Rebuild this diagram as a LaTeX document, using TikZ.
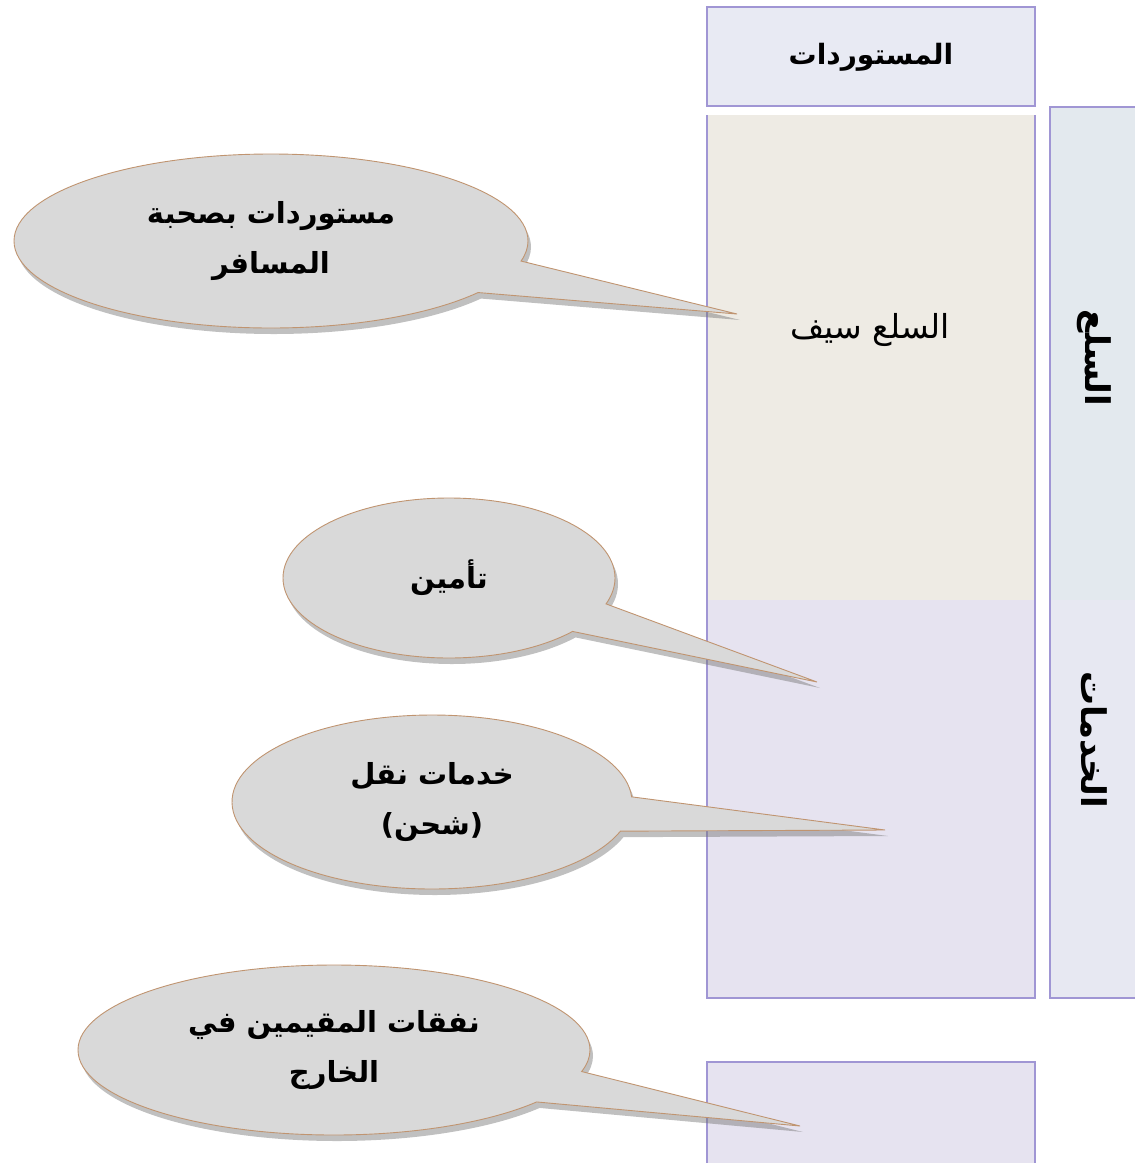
\documentclass[tikz,border=0pt]{standalone}
\usepackage{fontspec}
\usetikzlibrary{shapes.callouts,shadows}
\TeXXeTstate=1
\newfontfamily\arabicfont[Script=Arabic]{DejaVu Sans}
\definecolor{edgepurple}{RGB}{160,150,212}
\definecolor{topfill}{RGB}{232,234,243}
\definecolor{beigefill}{RGB}{238,235,228}
\definecolor{lavfill}{RGB}{230,227,240}
\definecolor{sidetop}{RGB}{227,233,238}
\definecolor{sidebot}{RGB}{231,232,242}
\definecolor{bubblefill}{RGB}{217,217,217}
\definecolor{bubbleedge}{RGB}{192,148,112}
\tikzset{
  panel/.style={inner sep=0pt, outer sep=0pt},
  framed/.style={panel, draw=edgepurple, line width=1.1pt},
  edge/.style={draw=edgepurple, line width=1.1pt},
  bubble/.style={ellipse callout, fill=bubblefill, draw=bubbleedge, line width=0.9pt,
    inner sep=0pt, align=center, callout pointer arc=23,
    font=\arabicfont\bfseries\fontsize{29}{50}\selectfont,
    drop shadow={shadow xshift=3pt, shadow yshift=-6pt, opacity=0.45, fill=black!55}},
  sidelabel/.style={font=\arabicfont\bfseries\fontsize{34}{40}\selectfont, rotate=-90}
}
\begin{document}
\begin{tikzpicture}[x=1pt,y=-1pt]
\useasboundingbox (0,0) rectangle (1135,1163);
\clip (0,0) rectangle (1135,1163);
% top header box
\node[framed, fill=topfill, minimum width=328pt, minimum height=99pt] (imp) at (871,56.5) {};
\node[font=\arabicfont\bfseries\fontsize{28}{32}\selectfont] (impt) at (871,57)
  {\beginR المستوردات\endR};
% main column
\node[panel, fill=beigefill, minimum width=328pt, minimum height=485pt] (goods) at (871,357.5) {};
\node[panel, fill=lavfill, minimum width=328pt, minimum height=398pt] (serv) at (871,799) {};
\draw[edge] (goods.north west) -- (serv.south west) -- (serv.south east) -- (goods.north east);
\node[font=\arabicfont\fontsize{33}{38}\selectfont] (cif) at (870,330) {\beginR السلع سيف\endR};
% side column
\node[panel, fill=sidetop, minimum width=90pt, minimum height=493pt] (gl) at (1095,353.5) {};
\node[panel, fill=sidebot, minimum width=90pt, minimum height=398pt] (sl) at (1095,799) {};
\draw[edge] (gl.north east) -- (gl.north west) -- (sl.south west) -- (sl.south east);
\node[sidelabel] (glt) at (1094,358) {\beginR السلع\endR};
\node[sidelabel] (slt) at (1094,740) {\beginR الخدمات\endR};
% bottom box
\node[framed, fill=lavfill, minimum width=328pt, minimum height=120pt] (abroad) at (871,1122) {};
% callout tips
\coordinate (t1) at (737,314);
\coordinate (t2) at (817,682);
\coordinate (t3) at (885,830);
\coordinate (t4) at (800,1126);
% callouts
\node[bubble, minimum width=514pt, minimum height=174pt, callout absolute pointer=(t1)] (c1) at (271,241)
  {\beginR مستوردات بصحبة\endR\\\beginR المسافر\endR};
\node[bubble, minimum width=332pt, minimum height=160pt, callout absolute pointer=(t2)] (c2) at (449,578)
  {\beginR تأمين\endR};
\node[bubble, minimum width=400pt, minimum height=174pt, callout absolute pointer=(t3)] (c3) at (432,802)
  {\beginR خدمات نقل\endR\\\beginR (شحن)\endR};
\node[bubble, minimum width=512pt, minimum height=170pt, callout absolute pointer=(t4)] (c4) at (334,1050)
  {\beginR نفقات المقيمين في\endR\\\beginR الخارج\endR};
\end{tikzpicture}
\end{document}
